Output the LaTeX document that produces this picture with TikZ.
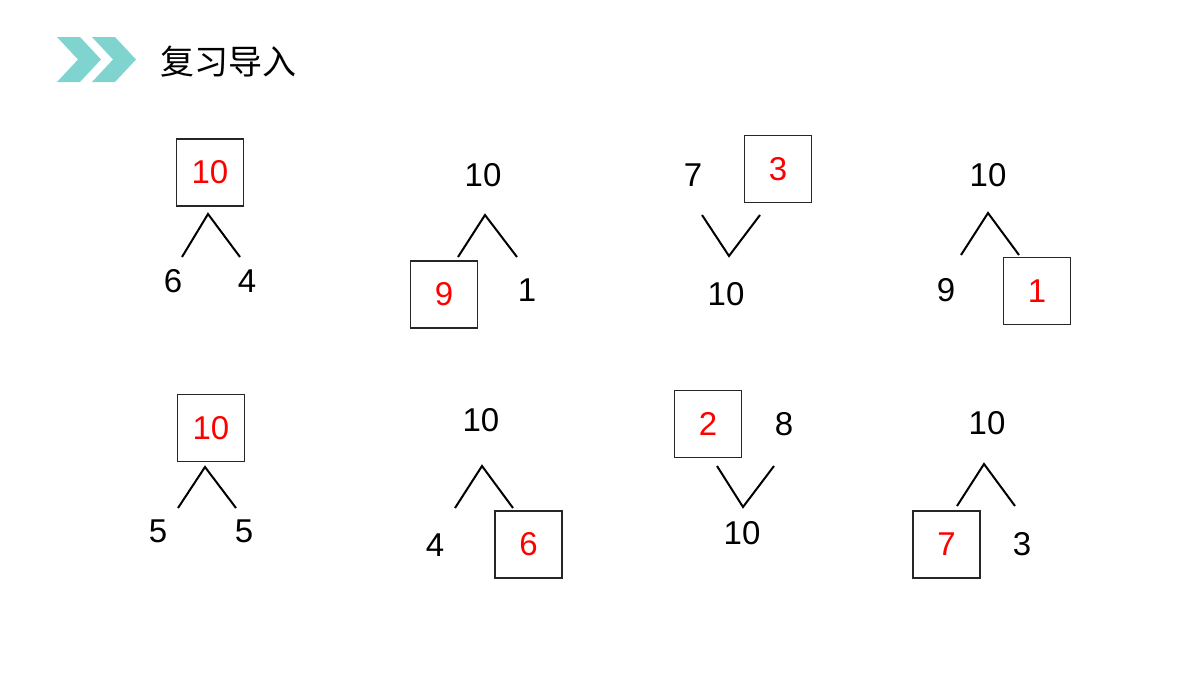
\documentclass[tikz,border=0pt]{standalone}
\usepackage{fontspec}
\setmainfont{Liberation Sans}
\newfontfamily\cjk{Noto Sans CJK SC}
\usepackage{tikz}
\definecolor{chevteal}{RGB}{127,212,208}
\tikzset{
  num/.style={font=\fontsize{16.5}{16.5}\selectfont, inner sep=0pt},
  ans/.style={num, text=red, draw=black!85, line width=0.9pt, minimum size=33.5pt},
  leg/.style={line width=1pt},
}

\begin{document}
\begin{tikzpicture}[x=0.5pt,y=-0.5pt]
\useasboundingbox (0,0) rectangle (1200,675);
% header
\fill[chevteal] (57,37)--(80,37)--(101,59.5)--(80,82)--(57,82)--(78,59.5)--cycle;
\fill[chevteal] (92,37)--(115,37)--(136,59.5)--(115,82)--(92,82)--(113,59.5)--cycle;
\node[font=\cjk\fontsize{17}{17}\selectfont, inner sep=0pt] (title) at (228.5,62) {复习导入};

% row 1
\coordinate (A1) at (208,214);
\coordinate (L1) at (182,257);
\coordinate (R1) at (240,257);
\node[ans] (t1) at (210,172.5) {10};
\node[num] (l1) at (173,281) {6};
\node[num] (r1) at (247,281) {4};
\draw[leg] (L1)--(A1)--(R1);

\coordinate (A2) at (485,215);
\coordinate (L2) at (458,257);
\coordinate (R2) at (517,257);
\node[num] (t2) at (483,175) {10};
\node[ans] (l2) at (444,294.5) {9};
\node[num] (r2) at (527,290) {1};
\draw[leg] (L2)--(A2)--(R2);

\coordinate (A3) at (729,256);
\coordinate (L3) at (702,215);
\coordinate (R3) at (760,215);
\node[num] (l3) at (693,175) {7};
\node[ans] (r3) at (778,169) {3};
\node[num] (t3) at (726,294) {10};
\draw[leg] (L3)--(A3)--(R3);

\coordinate (A4) at (988,213);
\coordinate (L4) at (961,255);
\coordinate (R4) at (1019,255);
\node[num] (t4) at (988,175) {10};
\node[num] (l4) at (946,290) {9};
\node[ans] (r4) at (1037,291) {1};
\draw[leg] (L4)--(A4)--(R4);

% row 2
\coordinate (A5) at (205,467);
\coordinate (L5) at (178,508);
\coordinate (R5) at (236,508);
\node[ans] (t5) at (211,428) {10};
\node[num] (l5) at (158,531) {5};
\node[num] (r5) at (244,531) {5};
\draw[leg] (L5)--(A5)--(R5);

\coordinate (A6) at (482,466);
\coordinate (L6) at (455,508);
\coordinate (R6) at (513,508);
\node[num] (t6) at (481,420) {10};
\node[num] (l6) at (435,545) {4};
\node[ans] (r6) at (528.5,544.5) {6};
\draw[leg] (L6)--(A6)--(R6);

\coordinate (A7) at (743,507);
\coordinate (L7) at (717,466);
\coordinate (R7) at (774,466);
\node[ans] (l7) at (708,424) {2};
\node[num] (r7) at (784,424) {8};
\node[num] (t7) at (742,533) {10};
\draw[leg] (L7)--(A7)--(R7);

\coordinate (A8) at (984,464);
\coordinate (L8) at (957,506);
\coordinate (R8) at (1015,506);
\node[num] (t8) at (987,423) {10};
\node[ans] (l8) at (946.5,544.5) {7};
\node[num] (r8) at (1022,544) {3};
\draw[leg] (L8)--(A8)--(R8);
\end{tikzpicture}
\end{document}
